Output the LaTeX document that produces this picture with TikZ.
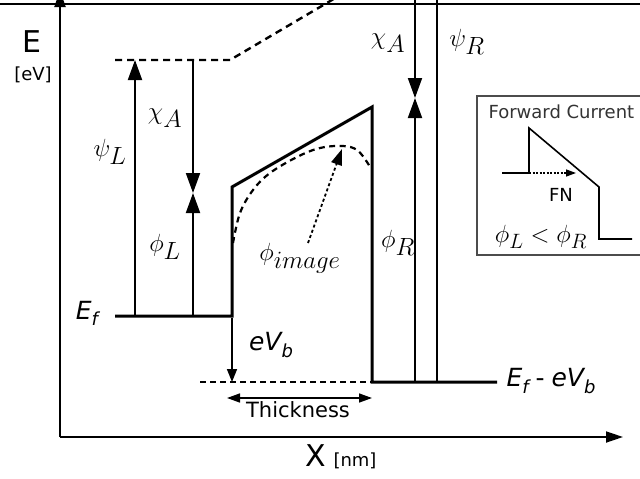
\documentclass[tikz,border=0pt]{standalone}
\usepackage{fontspec}
\setmainfont{DejaVu Sans}
\usetikzlibrary{arrows.meta}

\newcommand{\fsz}[1]{\fontsize{#1}{#1}\selectfont}

\begin{document}
\begin{tikzpicture}[x=1pt,y=-1pt,
 band/.style={line width=3pt},
 vac/.style={line width=2.4pt,dash pattern=on 7pt off 5pt},
 arr/.style={-{Triangle[length=20pt,width=14pt]},line width=1.9pt},
 sarr/.style={-{Triangle[length=13pt,width=10pt]},line width=1.6pt},
 axis/.style={-{Triangle[length=17pt,width=11pt]},line width=1.8pt},
 greek/.style={font=\fsz{33}},
 lbl/.style={font=\fsz{25}\itshape},
 unit/.style={font=\fsz{18}}]
\useasboundingbox (0,0) rectangle (640,479);
\clip (0,0) rectangle (640,479);
% page rule and axes
\coordinate (ruleL) at (0,4);
\coordinate (ruleR) at (640,4);
\draw[line width=1.4pt] (ruleL) -- (ruleR);
\coordinate (origin) at (60,437);
\coordinate (yend) at (60,-10);
\coordinate (xend) at (623,437);
\draw[axis] (origin) -- (yend);
\draw[axis] (origin) -- (xend);
\node[font=\fsz{30}] (Elab) at (32,42) {E};
\node[unit] (eVlab) at (33,75) {[eV]};
\node[font=\fsz{30}] (Xlab) at (316,456) {X};
\node[unit] (nmlab) at (355,461) {[nm]};
% left metal
\coordinate (EfL) at (115,316);
\coordinate (wallB) at (232,316);
\coordinate (wallT) at (232,187);
\coordinate (peak) at (372,107);
\coordinate (wallR) at (372,382);
\coordinate (EfR) at (497,382);
\coordinate (vacL) at (115,60);
\coordinate (vacK) at (230,60);
\coordinate (vacT) at (337,-3);
\draw[vac] (vacL) -- (vacK) -- (vacT);
\draw[band] (EfL) -- (wallB) -- (wallT) -- (peak) -- (wallR) -- (EfR);
% levels
\coordinate (psiLb) at (135,316);
\coordinate (psiLt) at (135,60);
\draw[arr] (psiLb) -- (psiLt);
\coordinate (chiLt) at (193,60);
\coordinate (chiLm) at (193,193);
\coordinate (phiLb) at (193,316);
\draw[arr] (chiLt) -- (chiLm);
\draw[arr] (phiLb) -- (chiLm);
\node[greek] (psiL) at (110,152) {$\psi_L$};
\node[greek] (chiL) at (165,118) {$\chi_A$};
\node[greek] (phiL) at (165,247) {$\phi_L$};
\node[lbl] (EfLlab) at (87,313) {E\raisebox{-0.45ex}{\fsz{18}f}};
% bias
\coordinate (biasL) at (200,382);
\draw[line width=2.2pt,dash pattern=on 6pt off 4pt] (biasL) -- (wallR);
\coordinate (eVt) at (232,318);
\coordinate (eVb) at (232,382);
\draw[sarr] (eVt) -- (eVb);
\node[lbl] (eVlb) at (271,345) {eV\raisebox{-0.45ex}{\fsz{18}b}};
\coordinate (thL) at (227,398);
\coordinate (thR) at (372,398);
\draw[{Triangle[length=13pt,width=9pt]}-{Triangle[length=13pt,width=9pt]},line width=1.5pt] (thL) -- (thR);
\node[font=\fsz{21}] (thick) at (298,410) {Thickness};
\node[lbl,anchor=west] (EfRlab) at (503,381) {E\raisebox{-0.45ex}{\fsz{18}f}\;\textup{-}\;eV\raisebox{-0.45ex}{\fsz{18}b}};
% image force barrier
\draw[line width=2.2pt,dash pattern=on 6pt off 4.5pt] plot[smooth,tension=0.6] coordinates
 {(233,243) (240,213) (253,190) (270,173) (297,157) (320,148) (343,146) (357,150) (367,162) (370,168)};
\coordinate (imgA) at (308,243);
\coordinate (imgB) at (342,149);
\draw[-{Triangle[length=16pt,width=11pt]},line width=1.8pt,dash pattern=on 3pt off 2.5pt] (imgA) -- (imgB);
\node[greek] (phiimg) at (300,258) {$\phi_{image}$};
% right metal
\coordinate (chiRt) at (415,-5);
\coordinate (chiRm) at (415,98);
\coordinate (phiRb) at (415,382);
\draw[arr] (chiRt) -- (chiRm);
\draw[arr] (phiRb) -- (chiRm);
\coordinate (psiRb) at (437,382);
\coordinate (psiRt) at (437,-25);
\draw[arr] (psiRb) -- (psiRt);
\node[greek] (chiR) at (388,43) {$\chi_A$};
\node[greek] (psiR) at (467,42) {$\psi_R$};
\node[greek] (phiR) at (398,243) {$\phi_R$};
% inset
\draw[line width=1.5pt,draw=black!70] (477,96) rectangle (660,255);
\node[font=\fsz{18},text=black!80,anchor=west] (fwd) at (485,112) {Forward Current};
\coordinate (inA) at (502,173);
\coordinate (inB) at (529,173);
\coordinate (inC) at (529,128);
\coordinate (inD) at (599,187);
\coordinate (inE) at (599,239);
\coordinate (inF) at (632,239);
\draw[line width=1.6pt] (inA) -- (inB) -- (inC) -- (inD) -- (inE) -- (inF);
\coordinate (fnEnd) at (576,173);
\draw[-{Triangle[length=10pt,width=7pt]},line width=1.4pt,dash pattern=on 2pt off 1.5pt] (inB) -- (fnEnd);
\node[font=\fsz{18}] (fn) at (561,195) {FN};
\node[font=\fsz{29}] (cond) at (541,237) {$\phi_L < \phi_R$};
\end{tikzpicture}
\end{document}
